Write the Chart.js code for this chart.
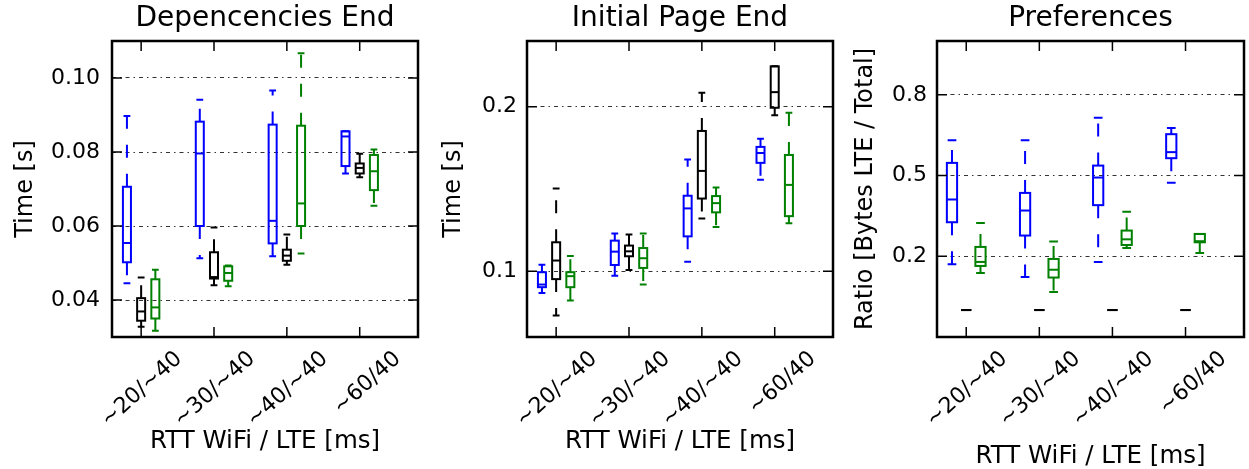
<!DOCTYPE html>
<html lang="en">
<head>
<meta charset="UTF-8" />
<title>RTT WiFi / LTE</title>
<script src="https://cdn.jsdelivr.net/npm/chart.js"></script>
<style>
  html, body { margin: 0; padding: 0; background: #fff; overflow: hidden; }
  .panel { position: absolute; top: 0; height: 469px; }
  #p1 { left: 0; width: 420px; }
  #p2 { left: 420px; width: 420px; }
  #p3 { left: 840px; width: 409px; }
</style>
</head>
<body>

<div class="panel" id="p1"><canvas id="c1"></canvas></div>
<div class="panel" id="p2"><canvas id="c2"></canvas></div>
<div class="panel" id="p3"><canvas id="c3"></canvas></div>

<script>
const categories = ['~20/~40', '~30/~40', '~40/~40', '~60/40'];

// each entry: [min, q1, median, q3, max]
const depBlue  = [[0.0445, 0.0502, 0.0554, 0.0706, 0.0897], [0.0513, 0.0600, 0.0796, 0.0882, 0.0941], [0.0518, 0.0553, 0.0614, 0.0874, 0.0966], [0.0742, 0.0762, 0.0842, 0.0856, 0.0856]];
const depBlack = [[0.0328, 0.0344, 0.0369, 0.0405, 0.0461], [0.0440, 0.0458, 0.0462, 0.0529, 0.0596], [0.0495, 0.0506, 0.0520, 0.0536, 0.0577], [0.0732, 0.0742, 0.0757, 0.0769, 0.0795]];
const depGreen = [[0.0317, 0.0350, 0.0380, 0.0456, 0.0482], [0.0437, 0.0452, 0.0473, 0.0491, 0.0493], [0.0526, 0.0600, 0.0661, 0.0871, 0.1067], [0.0655, 0.0697, 0.0748, 0.0792, 0.0807]];

const pageBlue  = [[0.0867, 0.0903, 0.0919, 0.0994, 0.1040], [0.0972, 0.1038, 0.1119, 0.1186, 0.1230], [0.1057, 0.1212, 0.1382, 0.1459, 0.1679], [0.1556, 0.1659, 0.1719, 0.1756, 0.1806]];
const pageBlack = [[0.0730, 0.0952, 0.1065, 0.1176, 0.1503], [0.1008, 0.1091, 0.1121, 0.1156, 0.1224], [0.1321, 0.1442, 0.1610, 0.1853, 0.2085], [0.1949, 0.1994, 0.2089, 0.2246, 0.2246]];
const pageGreen = [[0.0822, 0.0903, 0.0970, 0.0994, 0.1093], [0.0919, 0.1020, 0.1079, 0.1141, 0.1230], [0.1269, 0.1358, 0.1414, 0.1457, 0.1509], [0.1291, 0.1335, 0.1525, 0.1707, 0.1964]];

const prefBlue  = [[0.170, 0.3265, 0.411, 0.547, 0.631], [0.123, 0.277, 0.370, 0.4355, 0.631], [0.179, 0.390, 0.4926, 0.537, 0.7145], [0.473, 0.5645, 0.587, 0.6537, 0.677]];
const prefBlack = [[0, 0, 0, 0, 0], [0, 0, 0, 0, 0], [0, 0, 0, 0, 0], [0, 0, 0, 0, 0]];
const prefGreen = [[0.138, 0.164, 0.179, 0.2347, 0.324], [0.0674, 0.121, 0.150, 0.190, 0.2546], [0.231, 0.242, 0.263, 0.2955, 0.365], [0.2124, 0.252, 0.256, 0.283, 0.283]];

const depTicks = [0.04, 0.06, 0.08, 0.10];
const depTickLabels = ['0.04', '0.06', '0.08', '0.10'];
const pageTicks = [0.1, 0.2];
const pageTickLabels = ['0.1', '0.2'];
const prefTicks = [0.2, 0.5, 0.8];
const prefTickLabels = ['0.2', '0.5', '0.8'];

const FONT = 'DejaVu Sans';

// draws the boxes, whiskers and caps using the chart scales
function boxPlugin(series, boxWidth) {
    return {
        id: 'boxes',
        afterDatasetsDraw(chart) {
            const { ctx, chartArea: a, scales: { x, y } } = chart;
            const hw = (x.getPixelForValue(boxWidth) - x.getPixelForValue(0)) / 2;
            const cw = hw * 0.85;
            ctx.save();
            ctx.beginPath();
            ctx.rect(a.left, a.top, a.right - a.left, a.bottom - a.top);
            ctx.clip();
            ctx.lineWidth = 2;
            series.forEach(s => {
                ctx.strokeStyle = s.color;
                s.stats.forEach((v, i) => {
                    const cx = x.getPixelForValue(i + s.offset);
                    const [lo, q1, med, q3, hi] = v.map(val => y.getPixelForValue(val));
                    // whiskers (dashed, starting at the box)
                    ctx.setLineDash([13, 16]);
                    ctx.beginPath();
                    ctx.moveTo(cx, q3); ctx.lineTo(cx, hi);
                    ctx.moveTo(cx, q1); ctx.lineTo(cx, lo);
                    ctx.stroke();
                    ctx.setLineDash([]);
                    ctx.beginPath();
                    ctx.moveTo(cx - cw, hi); ctx.lineTo(cx + cw, hi);
                    ctx.moveTo(cx - cw, lo); ctx.lineTo(cx + cw, lo);
                    ctx.stroke();
                    // box + median
                    ctx.strokeRect(cx - hw, q3, hw * 2, q1 - q3);
                    ctx.beginPath();
                    ctx.moveTo(cx - hw, med); ctx.lineTo(cx + hw, med);
                    ctx.stroke();
                });
            });
            ctx.restore();
        }
    };
}

// frame with inward ticks on all four sides
const framePlugin = {
    id: 'frame',
    afterDraw(chart) {
        const { ctx, chartArea: a, scales: { x, y } } = chart;
        ctx.save();
        ctx.strokeStyle = '#000';
        ctx.lineWidth = 1.5;
        ctx.beginPath();
        x.ticks.forEach(t => {
            const px = x.getPixelForValue(t.value);
            ctx.moveTo(px, a.top); ctx.lineTo(px, a.top + 10);
            ctx.moveTo(px, a.bottom); ctx.lineTo(px, a.bottom - 10);
        });
        y.ticks.forEach(t => {
            const py = y.getPixelForValue(t.value);
            ctx.moveTo(a.left, py); ctx.lineTo(a.left + 10, py);
            ctx.moveTo(a.right, py); ctx.lineTo(a.right - 10, py);
        });
        ctx.stroke();
        ctx.lineWidth = 2.5;
        ctx.strokeRect(a.left, a.top, a.right - a.left, a.bottom - a.top);
        ctx.restore();
    }
};

function makePanel(id, p) {
    const series = [
        { color: '#0000ff', offset: -0.195, stats: p.blue },
        { color: '#000000', offset: 0, stats: p.black },
        { color: '#008000', offset: 0.195, stats: p.green }
    ];
    new Chart(document.getElementById(id), {
        type: 'scatter',
        data: { datasets: [] },
        options: {
            responsive: true,
            maintainAspectRatio: false,
            animation: false,
            layout: { padding: { left: 0, right: p.padRight, top: 0, bottom: 0 } },
            plugins: {
                legend: { display: false },
                tooltip: { enabled: false },
                title: {
                    display: true,
                    text: p.title,
                    fullSize: false,
                    color: '#000',
                    font: { family: FONT, size: 28, weight: 'normal', lineHeight: 1.2 },
                    padding: { top: 2, bottom: 5.4 }
                }
            },
            scales: {
                x: {
                    type: 'linear',
                    min: -0.4,
                    max: 3.8,
                    afterBuildTicks: s => { s.ticks = categories.map((c, i) => ({ value: i })); },
                    afterFit: s => { s.height = 132; },
                    grid: { display: false, drawTicks: false },
                    border: { display: false },
                    ticks: {
                        autoSkip: false,
                        minRotation: 42,
                        maxRotation: 42,
                        padding: 9,
                        labelOffset: 38,
                        color: '#000',
                        font: { family: FONT, size: 22 },
                        callback: v => categories[v]
                    },
                    title: {
                        display: true,
                        text: 'RTT WiFi / LTE [ms]',
                        color: '#000',
                        font: { family: FONT, size: 24.5, lineHeight: 1 },
                        padding: { top: 0, bottom: p.xTitlePad }
                    }
                },
                y: {
                    min: p.yMin,
                    max: p.yMax,
                    afterBuildTicks: s => { s.ticks = p.ticks.map(v => ({ value: v })); },
                    afterFit: s => { s.width = p.plotLeft; },
                    grid: { color: '#333', lineWidth: 1, drawTicks: false },
                    border: { display: false, dash: [4, 4, 1.5, 4] },
                    ticks: {
                        padding: p.tickPad,
                        color: '#000',
                        font: { family: FONT, size: 22 },
                        callback: (v, i) => p.tickLabels[i]
                    },
                    title: {
                        display: true,
                        text: p.yTitle,
                        color: '#000',
                        font: { family: FONT, size: 24, lineHeight: 1.2 },
                        padding: { top: p.yTitlePad, bottom: 0 }
                    }
                }
            }
        },
        plugins: [boxPlugin(series, p.boxWidth), framePlugin]
    });
}

makePanel('c1', {
    title: 'Depencencies End', yTitle: 'Time [s]',
    blue: depBlue, black: depBlack, green: depGreen,
    yMin: 0.03, yMax: 0.11, ticks: depTicks, tickLabels: depTickLabels,
    plotLeft: 112, padRight: 2, tickPad: 12, yTitlePad: 11.6, xTitlePad: 15, boxWidth: 0.11
});
makePanel('c2', {
    title: 'Initial Page End', yTitle: 'Time [s]',
    blue: pageBlue, black: pageBlack, green: pageGreen,
    yMin: 0.06, yMax: 0.24, ticks: pageTicks, tickLabels: pageTickLabels,
    plotLeft: 107, padRight: 7, tickPad: 10, yTitlePad: 19.6, xTitlePad: 15, boxWidth: 0.11
});
makePanel('c3', {
    title: 'Preferences', yTitle: 'Ratio [Bytes LTE / Total]',
    blue: prefBlue, black: prefBlack, green: prefGreen,
    yMin: -0.1, yMax: 1.0, ticks: prefTicks, tickLabels: prefTickLabels,
    plotLeft: 97, padRight: 5, tickPad: 10, yTitlePad: 11.6, xTitlePad: 0, boxWidth: 0.14
});
</script>
</body>
</html>
